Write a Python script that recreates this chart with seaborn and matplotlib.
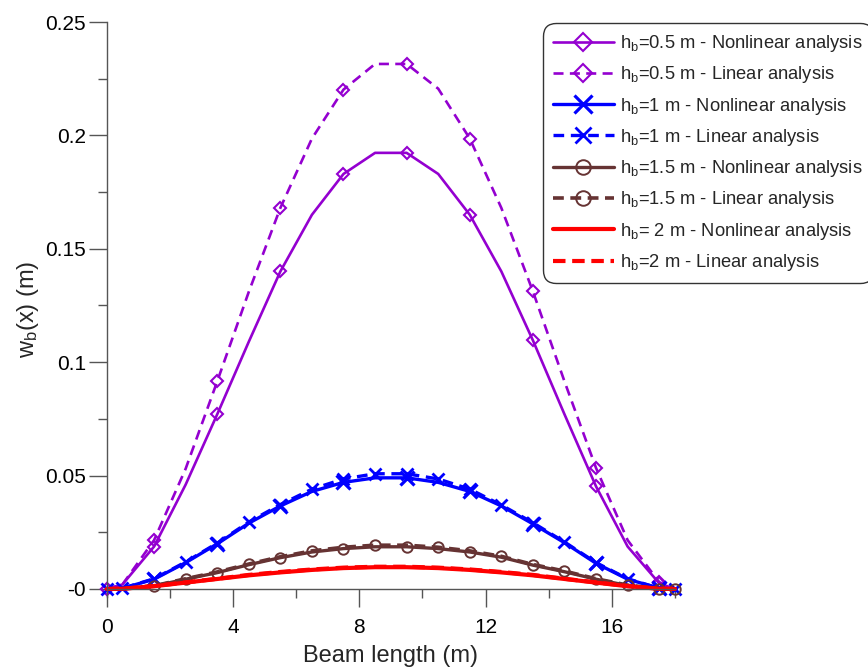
import numpy as np
import pandas as pd
import matplotlib
matplotlib.use("Agg")
import matplotlib.pyplot as plt
import seaborn as sns
from matplotlib.ticker import FixedLocator, MultipleLocator

# Positions along the beam (m)
x_beam = [0, 0.5, 1.5, 2.5, 3.5, 4.5, 5.5, 6.5, 7.5, 8.5, 9.5,
          10.5, 11.5, 12.5, 13.5, 14.5, 15.5, 16.5, 17.5, 18]

# Deflection w_b(x) in m for each beam height
w_05_nonlin = [0, 0.002, 0.0187, 0.046, 0.077, 0.109, 0.140, 0.165, 0.183, 0.1923,
               0.1923, 0.183, 0.165, 0.140, 0.1096, 0.077, 0.0452, 0.0187, 0.0025, 0]
w_05_lin = [0, 0.002, 0.0215, 0.053, 0.0915, 0.131, 0.168, 0.1986, 0.2202, 0.2315,
            0.2315, 0.2206, 0.1986, 0.168, 0.1312, 0.0915, 0.0533, 0.0215, 0.003, 0]
w_1_nonlin = [0, 0.0003, 0.0043, 0.0116, 0.0199, 0.029, 0.0366, 0.043, 0.047, 0.049,
              0.049, 0.047, 0.043, 0.0366, 0.0287, 0.0204, 0.0113, 0.0043, 0.0003, 0]
w_1_lin = [0, 0.0003, 0.0045, 0.0119, 0.0202, 0.0295, 0.0372, 0.0440, 0.0485, 0.0508,
           0.0508, 0.0485, 0.0440, 0.0370, 0.0292, 0.0207, 0.0116, 0.0045, 0.0003, 0]
w_15_nonlin = [0, 0.0001, 0.0013, 0.0043, 0.0072, 0.0107, 0.0138, 0.0163, 0.0178, 0.0186,
               0.0186, 0.0178, 0.0163, 0.0140, 0.0105, 0.0076, 0.0043, 0.0015, 0.0001, 0]
w_15_lin = [0, 0.0001, 0.0014, 0.0045, 0.0075, 0.0110, 0.0142, 0.0168, 0.0184, 0.0193,
            0.0193, 0.0184, 0.0168, 0.0144, 0.0108, 0.0079, 0.0045, 0.0017, 0.0001, 0]
w_2_nonlin = [0, 0.0001, 0.0012, 0.0028, 0.0044, 0.0060, 0.0073, 0.0084, 0.0092, 0.0096,
              0.0096, 0.0092, 0.0084, 0.0073, 0.0060, 0.0044, 0.0028, 0.0012, 0.0001, 0]
w_2_lin = [0, 0.0001, 0.0013, 0.0029, 0.0045, 0.0062, 0.0075, 0.0086, 0.0094, 0.0098,
           0.0098, 0.0094, 0.0086, 0.0075, 0.0062, 0.0045, 0.0029, 0.0013, 0.0001, 0]

x_ticks = [0, 4, 8, 12, 16]
y_ticks = [0, 0.05, 0.1, 0.15, 0.2, 0.25]
y_ticklabels = ["-0", "0.05", "0.1", "0.15", "0.2", "0.25"]

sns.set_theme(style="white")
plt.rcParams["font.family"] = ["Liberation Sans", "DejaVu Sans"]
plt.rcParams["mathtext.fontset"] = "custom"
plt.rcParams["mathtext.rm"] = "Liberation Sans"
plt.rcParams["mathtext.it"] = "Liberation Sans:italic"

PURPLE = "#9400D0"
BLUE = "#0000FF"
BROWN = "#663333"
RED = "#FF0000"

series = [
    (w_05_nonlin, "h$_\\mathrm{b}$=0.5 m - Nonlinear analysis",
     dict(color=PURPLE, lw=1.9, ls="-", marker="D", ms=6.2, mew=1.5, markevery=2)),
    (w_05_lin, "h$_\\mathrm{b}$=0.5 m - Linear analysis",
     dict(color=PURPLE, lw=1.9, ls=(0, (3.8, 2.4)), marker="D", ms=6.2, mew=1.5, markevery=2)),
    (w_1_nonlin, "h$_\\mathrm{b}$=1 m - Nonlinear analysis",
     dict(color=BLUE, lw=2.4, ls="-", marker="x", ms=9.5, mew=2.3, markevery=(2, 2))),
    (w_1_lin, "h$_\\mathrm{b}$=1 m - Linear analysis",
     dict(color=BLUE, lw=2.4, ls=(0, (3.2, 2.0)), marker="x", ms=8.5, mew=2.0, markevery=1)),
    (w_15_nonlin, "h$_\\mathrm{b}$=1.5 m - Nonlinear analysis",
     dict(color=BROWN, lw=2.4, ls="-", marker="o", ms=7.5, mew=1.4, markevery=(2, 2))),
    (w_15_lin, "h$_\\mathrm{b}$=1.5 m - Linear analysis",
     dict(color=BROWN, lw=2.6, ls=(0, (3.0, 1.8)), marker="o", ms=7.5, mew=1.4, markevery=(3, 2))),
    (w_2_nonlin, "h$_\\mathrm{b}$= 2 m - Nonlinear analysis",
     dict(color=RED, lw=3.0, ls="-", marker=None)),
    (w_2_lin, "h$_\\mathrm{b}$=2 m - Linear analysis",
     dict(color=RED, lw=3.0, ls=(0, (3.0, 1.6)), marker=None)),
]

W, H = 868, 671
fig = plt.figure(figsize=(W / 100, H / 100), dpi=100)
y_lo = -0.0035
ax = fig.add_axes([106.7 / W, (H - 596.9) / H, (675 - 106.7) / W, (596.9 - 22) / H])

handles = []
for values, label, style in series:
    df = pd.DataFrame({"x": x_beam, "w": values})
    n_before = len(ax.lines)
    kw = dict(style)
    marker = kw.pop("marker")
    if marker is None:
        for k in ("ms", "mew", "markevery"):
            kw.pop(k, None)
        sns.lineplot(data=df, x="x", y="w", ax=ax, sort=False, estimator=None,
                     clip_on=False, label=label, legend=False, **kw)
    else:
        sns.lineplot(data=df, x="x", y="w", ax=ax, sort=False, estimator=None,
                     marker=marker, mfc="none", mec=kw["color"], clip_on=False,
                     label=label, legend=False, **kw)
    handles.append(ax.lines[n_before])

ax.set_xlim(0, 18)
ax.set_ylim(y_lo, 0.25)

# Axis lines
for side in ("top", "right"):
    ax.spines[side].set_visible(False)
ax.spines["bottom"].set_position(("data", 0))
for side in ("left", "bottom"):
    ax.spines[side].set_color("#555555")
    ax.spines[side].set_linewidth(1.0)

ax.xaxis.set_major_locator(FixedLocator(x_ticks))
ax.xaxis.set_minor_locator(MultipleLocator(2))
ax.yaxis.set_major_locator(FixedLocator(y_ticks))
ax.set_yticklabels(y_ticklabels)
ax.yaxis.set_minor_locator(FixedLocator([0.025, 0.075, 0.125, 0.175, 0.225]))
ax.tick_params(axis="both", which="major", direction="out", length=13, width=1.0,
               color="#555555", labelsize=15, labelcolor="black",
               bottom=True, left=True)
ax.tick_params(axis="both", which="minor", direction="out", length=6.5, width=1.0,
               color="#555555", bottom=True, left=True)
ax.tick_params(axis="x", which="major", pad=8)
ax.tick_params(axis="y", which="major", pad=2)

ax.set_xlabel("Beam length (m)", fontsize=17, labelpad=6)
ax.set_ylabel("w$_\\mathrm{b}$(x) (m)", fontsize=17, labelpad=3)

leg = fig.legend(handles=handles, labels=[s[1] for s in series],
                 loc="upper left", bbox_to_anchor=(543 / W, 1 - 23 / H),
                 bbox_transform=fig.transFigure,
                 fontsize=13.2, frameon=True, fancybox=True, numpoints=1,
                 markerscale=1.4,
                 handlelength=3.3, handletextpad=0.35, borderpad=0.55,
                 labelspacing=0.56, borderaxespad=0)
frame = leg.get_frame()
frame.set_boxstyle("round,pad=0,rounding_size=0.7")
frame.set_edgecolor("#333333")
frame.set_linewidth(1.0)
frame.set_facecolor("white")
frame.set_alpha(1)

fig.savefig("out.png", dpi=100)
